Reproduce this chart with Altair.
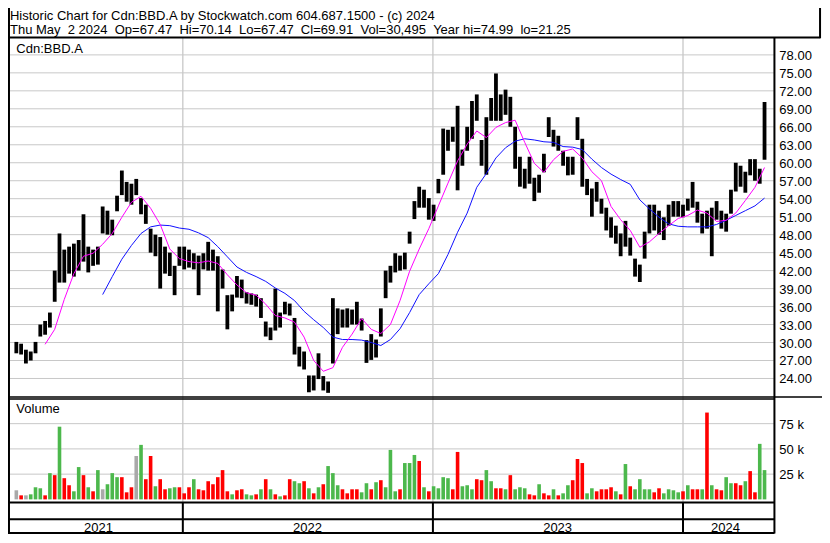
import altair as alt
import pandas as pd

# ---------------------------------------------------------------- layout
W, H = 814, 527
SX, SY = W / 830, H / 543


def X(v):
    return round(v * SX, 2)


def Y(v):
    return round(v * SY, 2)


FONT = "Liberation Sans"
GREEN = "#4cb84c"
RED = "#ff0000"
GRAY = "#a9a9a9"
GRID = "#c8c8c8"

# ---------------------------------------------------------------- data
week_start = "2021-05-03"
n_weeks = 157
dates = [d.strftime("%Y-%m-%d") for d in pd.date_range(week_start, periods=n_weeks, freq="7D")]

low = [
    28.2, 28.0, 26.5, 27.0, 28.2, 31.0, 31.3, 32.5, 36.8, 40.0,
    40.0, 41.5, 41.0, 42.0, 43.5, 41.7, 42.8, 43.0, 48.2, 48.0,
    47.9, 51.9, 54.6, 53.5, 53.0, 54.6, 51.4, 49.8, 45.0, 44.4,
    39.0, 41.5, 41.1, 37.9, 42.8, 42.2, 42.5, 42.2, 37.9, 42.2,
    42.0, 42.0, 35.2, 39.0, 32.2, 35.2, 37.5, 37.4, 36.5, 36.3,
    36.0, 34.1, 31.0, 30.4, 32.0, 32.5, 34.7, 34.5, 28.0, 26.0,
    25.5, 21.7, 22.0, 23.9, 22.0, 21.6, 26.5, 31.4, 32.5, 32.5,
    33.0, 33.0, 32.0, 26.6, 27.1, 27.5, 31.0, 37.4, 40.0, 41.7,
    42.0, 42.2, 46.5, 50.6, 52.5, 52.5, 50.5, 50.3, 54.9, 58.0,
    62.0, 63.5, 55.4, 59.5, 62.0, 64.0, 67.0, 59.5, 58.0, 67.0,
    67.0, 67.0, 68.0, 66.0, 59.0, 56.0, 55.7, 56.5, 53.6, 55.0,
    58.4, 64.3, 62.7, 62.0, 59.5, 57.9, 58.0, 63.8, 56.0, 54.6,
    51.0, 53.5, 51.5, 48.7, 47.5, 46.5, 44.4, 46.0, 44.5, 41.0,
    40.1, 44.0, 48.2, 48.7, 48.0, 47.1, 49.5, 51.0, 51.0, 50.9,
    52.0, 52.5, 50.0, 48.2, 49.0, 44.4, 50.5, 49.0, 48.5, 51.5,
    55.2, 56.0, 55.0, 57.9, 57.0, 56.5, 60.5,
]
high = [
    30.1, 29.8, 28.8, 28.5, 30.1, 33.0, 33.6, 35.0, 42.0, 48.2,
    45.5, 46.0, 46.5, 47.1, 51.4, 46.0, 45.5, 46.0, 52.7, 52.0,
    50.5, 54.5, 58.7, 56.8, 56.5, 57.3, 54.1, 53.0, 49.0, 48.0,
    47.6, 46.0, 45.0, 42.8, 46.0, 46.0, 45.5, 44.9, 44.5, 44.9,
    46.8, 45.5, 44.4, 42.2, 37.9, 38.0, 41.1, 40.5, 38.4, 38.2,
    38.0, 37.4, 33.5, 32.5, 39.0, 35.0, 36.8, 36.5, 34.1, 29.3,
    28.5, 24.5, 24.5, 28.2, 24.4, 23.5, 37.4, 35.7, 35.5, 35.7,
    35.5, 36.8, 34.0, 30.4, 31.4, 30.5, 35.7, 42.0, 42.8, 44.9,
    44.5, 45.0, 48.5, 53.6, 56.0, 55.5, 54.1, 53.0, 57.3, 65.7,
    65.5, 66.0, 69.5, 62.2, 66.0, 70.3, 71.4, 63.8, 67.6, 70.8,
    74.9, 71.4, 72.2, 71.0, 66.0, 61.0, 59.0, 61.0, 57.5, 58.0,
    61.5, 67.6, 65.5, 64.5, 62.0, 61.0, 61.0, 67.6, 64.0, 57.3,
    55.7, 56.8, 54.0, 52.5, 50.9, 49.5, 48.2, 50.3, 47.5, 44.0,
    43.0, 48.5, 53.0, 53.0, 52.0, 50.9, 53.0, 53.6, 53.6, 53.0,
    54.0, 56.8, 53.5, 51.5, 52.0, 52.5, 53.6, 52.0, 51.5, 55.5,
    60.0, 59.5, 58.5, 60.6, 60.6, 59.0, 70.14,
]

# daily-volume height representative of each week, in thousands of shares
volume_k = [
    9, 4, 4, 5, 12, 11, 4, 26, 24, 72,
    21, 14, 8, 32, 24, 12, 8, 29, 10, 15,
    26, 22, 22, 7, 12, 43, 54, 20, 43, 13,
    20, 10, 11, 12, 12, 6, 12, 20, 10, 9,
    18, 15, 22, 29, 8, 5, 9, 10, 5, 4,
    5, 10, 20, 10, 5, 3, 4, 20, 18, 16,
    18, 11, 6, 12, 15, 33, 26, 14, 10, 6,
    10, 10, 7, 16, 10, 17, 19, 12, 49, 8,
    10, 36, 36, 44, 38, 12, 8, 13, 11, 22,
    21, 10, 47, 13, 14, 10, 20, 19, 29, 18,
    11, 11, 10, 24, 10, 12, 11, 5, 4, 15,
    6, 4, 10, 4, 6, 14, 19, 40, 36, 6,
    11, 8, 10, 10, 12, 8, 5, 35, 13, 10,
    20, 10, 10, 7, 11, 6, 10, 9, 7, 8,
    14, 10, 10, 10, 86, 14, 10, 9, 22, 16,
    16, 14, 18, 28, 7, 55, 29,
]
# u = up day (green), d = down day (red), n = unchanged (gray)
volume_dir = (
    "n d n u u u d u d u "
    "d d u u d u d u n u "
    "u u d d d n u d d u "
    "d d u u d d d u d d "
    "d d d d d u d d u u "
    "d u d u d u d d u u "
    "d u d u d u u u d d "
    "d d u u d u d u u u "
    "d u u u d u d u u u "
    "u d d u u u d d u u "
    "d d u d u u u d d u "
    "d d u d u u d d d u "
    "u d d d d u d u d u "
    "u u u d d u u u u d "
    "u d d u d u d d u u "
    "d d u d d u u"
).split()

pink_ma = [
    29.7, 32.2, 37.2, 41.5, 44.4, 44.9, 46.4, 48.2, 50.9, 53.4,
    54.4, 52.4, 49.7, 45.6, 44.0, 43.5, 43.3, 43.6, 43.2, 41.3,
    39.6, 38.3, 37.9, 36.4, 34.5, 34.1, 33.4, 30.9, 27.0, 25.2,
    25.8, 29.2, 31.4, 34.0, 32.2, 31.5, 33.0, 37.0, 41.9, 45.6,
    49.0, 52.8, 56.6, 60.3, 63.1, 65.3, 64.2, 65.9, 66.7, 67.1,
    63.4, 59.9, 58.4, 60.5, 61.9, 62.3, 60.8, 58.5, 57.0, 52.7,
    50.5, 48.7, 45.9, 46.8, 48.2, 49.5, 50.7, 51.2, 52.1, 51.6,
    50.2, 50.4, 51.6, 53.7, 55.9, 59.2,
]
blue_ma = [
    38.0, 41.0, 43.9, 46.2, 48.2, 49.3, 49.6, 49.5, 49.1, 48.9,
    48.3, 47.5, 46.0, 44.3, 42.6, 41.7, 41.0, 40.2, 39.1, 38.2,
    37.0, 35.2, 33.8, 32.5, 30.9, 30.5, 30.5, 30.4, 30.0, 29.5,
    30.5, 32.3, 35.0, 38.0, 39.8, 41.5, 44.7, 48.4, 51.6, 55.9,
    58.2, 60.8, 62.5, 63.6, 64.0, 63.8, 63.5, 63.4, 62.7, 62.6,
    62.2, 60.6, 59.2, 58.1, 57.2, 56.4, 53.8, 52.3, 50.9, 49.8,
    49.4, 49.3, 49.3, 49.3, 49.7, 50.4, 51.2, 52.0, 52.8, 54.1,
]

price_ticks = [24, 27, 30, 33, 36, 39, 42, 45, 48, 51, 54, 57, 60, 63, 66, 69, 72, 75, 78]
volume_ticks = [25, 50, 75]
year_bounds = ["2022-01-01", "2023-01-01", "2024-01-01"]
year_labels = ["2021", "2022", "2023", "2024"]
year_label_dates = ["2021-08-31", "2022-07-02", "2023-07-02", "2024-03-03"]

NB = "\u00a0"
header1 = "Historic Chart for Cdn:BBD.A by Stockwatch.com 604.687.1500 - (c) 2024"
header2 = (
    f"Thu May {NB}2 2024 {NB}Op=67.47 {NB}Hi=70.14 {NB}Lo=67.47 {NB}Cl=69.91 "
    f"{NB}Vol=30,495 {NB}Year hi=74.99 {NB}lo=21.25"
)
symbol = "Cdn:BBD.A"
volume_title = "Volume"

# ---------------------------------------------------------------- tables
bars = pd.DataFrame({
    "d": dates, "lo": low, "hi": high,
    "vol": volume_k,
    "dir": [{"u": "up", "d": "down", "n": "flat"}[c] for c in volume_dir],
})
pink_df = pd.DataFrame({"d": dates[6::2], "v": pink_ma})
blue_df = pd.DataFrame({"d": dates[18::2], "v": blue_ma})
pticks_df = pd.DataFrame({"v": price_ticks, "t": [f"{p:.2f}" for p in price_ticks]})
vticks_df = pd.DataFrame({"v": volume_ticks, "t": [f"{v} k" for v in volume_ticks]})
ybound_df = pd.DataFrame({"d": year_bounds})
ylabel_df = pd.DataFrame({"d": year_label_dates, "t": year_labels})
one = pd.DataFrame({"a": [0]})

# ---------------------------------------------------------------- scales
xscale = alt.Scale(
    type="utc",
    domain=[alt.DateTime(year=2021, month=5, date=1, utc=True),
            alt.DateTime(year=2024, month=5, date=4, utc=True)],
    range=[X(2), X(780)],
)
pscale = alt.Scale(domain=[21.04, 80.64], range=[Y(400), Y(32)], nice=False, zero=False)
vscale = alt.Scale(domain=[0, 99.3], range=[Y(506.3), Y(403)], nice=False, zero=False)


def xd(field="d:T"):
    return alt.X(field, scale=xscale, axis=None)


def hline(y, x1, x2, w=2.0, color="black"):
    return alt.Chart(one).mark_rule(color=color, strokeWidth=w).encode(
        x=alt.value(X(x1)), x2=alt.value(X(x2)), y=alt.value(Y(y)))


def vline(x, y1, y2, w=2.0, color="black"):
    return alt.Chart(one).mark_rule(color=color, strokeWidth=w).encode(
        x=alt.value(X(x)), y=alt.value(Y(y1)), y2=alt.value(Y(y2)))


def label(s, x, y, size=13, align="left"):
    return alt.Chart(one).mark_text(
        align=align, baseline="alphabetic", font=FONT, fontSize=size, color="black"
    ).encode(x=alt.value(X(x)), y=alt.value(Y(y)), text=alt.value(s))


layers = []

# grid
layers.append(alt.Chart(pticks_df).mark_rule(color=GRID, strokeWidth=1).encode(
    y=alt.Y("v:Q", scale=pscale, axis=None), x=alt.value(X(2)), x2=alt.value(X(781))))
layers.append(alt.Chart(vticks_df).mark_rule(color=GRID, strokeWidth=1).encode(
    y=alt.Y("v:Q", scale=vscale, axis=None), x=alt.value(X(2)), x2=alt.value(X(781))))
layers.append(alt.Chart(ybound_df).mark_rule(color=GRID, strokeWidth=1.3).encode(
    x=xd(), y=alt.value(Y(31)), y2=alt.value(Y(509))))

# volume bars
layers.append(alt.Chart(bars).mark_bar(size=3.6).encode(
    x=xd(),
    y=alt.Y("vol:Q", scale=vscale, axis=None),
    y2=alt.value(Y(508.5)),
    color=alt.Color("dir:N", scale=alt.Scale(domain=["up", "down", "flat"],
                                             range=[GREEN, RED, GRAY]), legend=None),
))

# price bars and moving averages
layers.append(alt.Chart(bars).mark_rule(color="black", strokeWidth=3.8).encode(
    x=xd(), y=alt.Y("lo:Q", scale=pscale, axis=None), y2="hi:Q"))
layers.append(alt.Chart(blue_df).mark_line(color="#1010ff", strokeWidth=1).encode(
    x=xd(), y=alt.Y("v:Q", scale=pscale, axis=None)))
layers.append(alt.Chart(pink_df).mark_line(color="#ff00ff", strokeWidth=1).encode(
    x=xd(), y=alt.Y("v:Q", scale=pscale, axis=None)))

# frame
layers += [
    vline(1, 0, 541.5, 2),
    hline(30.5, 0, 828.5, 2),
    vline(828, 0, 31, 2),
    vline(781.5, 30, 541.5, 2),
    hline(400.7, 0, 830, 1.5),
    hline(402.9, 0, 781.5, 1.5),
    hline(509.5, 0, 781.5, 2),
    hline(526.7, 0, 781.5, 2),
    hline(541, 0, 781.5, 2),
]
layers.append(alt.Chart(ybound_df).mark_rule(color="black", strokeWidth=2).encode(
    x=xd(), y=alt.value(Y(509.5)), y2=alt.value(Y(541))))

# texts
layers += [
    label(header1, 2, 12),
    label(header2, 2, 26.7),
    label(symbol, 8.5, 46.7),
    label(volume_title, 8.5, 417.7),
]
layers.append(alt.Chart(pticks_df).mark_text(
    align="left", baseline="middle", font=FONT, fontSize=13, color="black", dy=1
).encode(y=alt.Y("v:Q", scale=pscale, axis=None), x=alt.value(X(786.5)), text="t:N"))
layers.append(alt.Chart(vticks_df).mark_text(
    align="left", baseline="middle", font=FONT, fontSize=13, color="black", dy=1
).encode(y=alt.Y("v:Q", scale=vscale, axis=None), x=alt.value(X(786.5)), text="t:N"))
layers.append(alt.Chart(ylabel_df).mark_text(
    align="center", baseline="alphabetic", font=FONT, fontSize=13, color="black"
).encode(x=xd(), y=alt.value(Y(539.5)), text="t:N"))

chart = (
    alt.layer(*layers)
    .resolve_scale(y="independent")
    .properties(width=W, height=H, autosize=alt.AutoSizeParams(type="none"), padding=0)
    .configure_view(stroke=None)
)

chart.save("out.html", embed_options={"renderer": "svg", "actions": False})
